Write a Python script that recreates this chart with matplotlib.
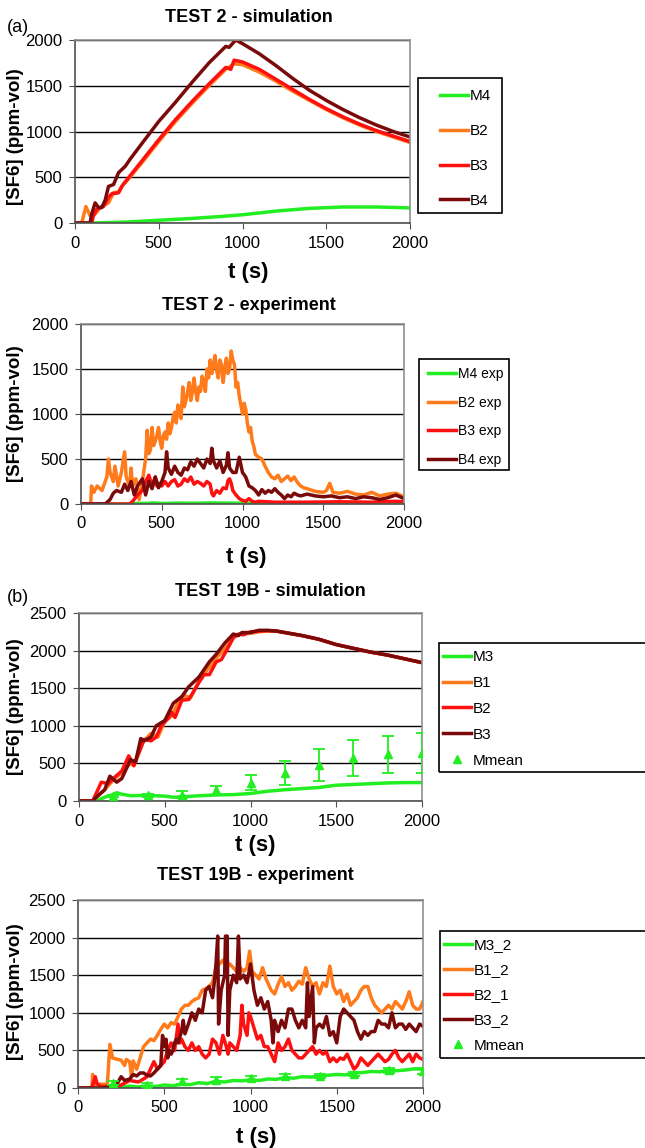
import numpy as np
import matplotlib
matplotlib.use("Agg")
import matplotlib.pyplot as plt
from matplotlib.patches import Rectangle

plt.rcParams['font.family'] = ['Liberation Sans', 'DejaVu Sans']

GREEN = "#22ee22"
ORANGE = "#ff7a1a"
RED = "#ff1010"
DARKRED = "#7a0a0a"

# ---------------- TEST 2 - simulation (t, ppm) ----------------
sim2_m4 = [(0, 0), (100, 0), (300, 10), (500, 30), (700, 50), (900, 75), (1000, 90),
           (1200, 130), (1400, 160), (1600, 175), (1800, 175), (2000, 165)]
sim2_b2 = [(0, 0), (40, 0), (65, 180), (90, 80), (110, 80), (130, 120), (150, 170),
           (180, 200), (200, 220), (230, 330), (260, 340), (290, 430), (300, 440),
           (400, 660), (500, 890), (600, 1110), (700, 1310), (800, 1500), (900, 1680),
           (950, 1740), (1000, 1730), (1100, 1650), (1200, 1550), (1300, 1440),
           (1400, 1340), (1500, 1240), (1600, 1150), (1700, 1070), (1800, 1000),
           (1900, 940), (2000, 880)]
sim2_b3 = [(0, 0), (100, 0), (110, 80), (130, 150), (170, 180), (200, 280), (220, 320),
           (260, 330), (280, 400), (300, 450), (400, 680), (500, 910), (600, 1130),
           (700, 1330), (800, 1520), (900, 1700), (930, 1680), (950, 1780), (1000, 1760),
           (1100, 1680), (1200, 1570), (1300, 1460), (1400, 1350), (1500, 1250),
           (1600, 1160), (1700, 1080), (1800, 1010), (1900, 950), (2000, 890)]
sim2_b4 = [(0, 0), (90, 0), (100, 100), (120, 220), (140, 170), (160, 170), (180, 250),
           (200, 400), (230, 420), (260, 550), (300, 620), (330, 700), (400, 870),
           (500, 1110), (600, 1320), (700, 1540), (800, 1750), (900, 1930), (920, 1920),
           (940, 1960), (960, 2000), (1000, 1960), (1100, 1850), (1200, 1720),
           (1300, 1580), (1400, 1450), (1500, 1340), (1600, 1240), (1700, 1150),
           (1800, 1070), (1900, 1000), (2000, 940)]

# ---------------- TEST 2 - experiment ----------------
exp2_m4 = [(0, 0), (300, 0), (350, 8), (400, 5), (450, 12), (500, 6), (600, 10), (700, 8),
           (800, 12), (900, 10), (1000, 8), (1100, 6), (1300, 5), (1500, 6), (1700, 4),
           (1900, 5), (2000, 5)]
exp2_b2 = [(0, 0), (60, 0), (65, 200), (80, 130), (100, 200), (130, 150), (160, 300),
           (170, 500), (180, 350), (200, 250), (210, 420), (230, 200), (250, 350),
           (270, 580), (280, 300), (300, 200), (310, 400), (320, 200), (340, 280),
           (360, 50), (380, 250), (400, 500), (410, 820), (420, 560), (430, 600),
           (440, 850), (450, 650), (460, 700), (470, 760), (480, 850), (490, 700),
           (500, 620), (510, 760), (520, 800), (530, 720), (540, 900), (550, 780),
           (560, 850), (570, 960), (580, 1020), (590, 900), (600, 1100), (610, 1000),
           (620, 950), (630, 1300), (640, 1080), (650, 1150), (660, 1250), (670, 1350),
           (680, 1150), (690, 1250), (700, 1400), (710, 1250), (720, 1150), (730, 1300),
           (740, 1250), (750, 1420), (760, 1350), (770, 1250), (780, 1500), (790, 1400),
           (800, 1600), (810, 1450), (820, 1550), (830, 1650), (840, 1480), (850, 1400),
           (860, 1600), (870, 1550), (880, 1350), (890, 1500), (900, 1620), (910, 1450),
           (920, 1500), (930, 1700), (940, 1600), (950, 1550), (960, 1300), (970, 1350),
           (980, 1200), (990, 1100), (1000, 1000), (1010, 1120), (1020, 1050),
           (1030, 900), (1040, 800), (1050, 850), (1060, 700), (1070, 640), (1080, 550),
           (1100, 520), (1120, 500), (1140, 420), (1160, 350), (1180, 300), (1200, 280),
           (1220, 320), (1240, 250), (1260, 280), (1280, 310), (1300, 260), (1320, 300),
           (1340, 240), (1360, 200), (1380, 180), (1400, 170), (1450, 140), (1500, 130),
           (1520, 150), (1540, 230), (1560, 130), (1600, 120), (1650, 140), (1700, 110),
           (1750, 100), (1800, 130), (1850, 90), (1900, 110), (1950, 120), (2000, 80)]
exp2_b3 = [(0, 0), (300, 0), (320, 30), (350, 100), (380, 150), (400, 250), (420, 320),
           (440, 200), (460, 300), (470, 200), (480, 230), (500, 200), (520, 250),
           (540, 200), (560, 250), (580, 270), (600, 200), (620, 220), (640, 280),
           (660, 250), (680, 300), (700, 220), (720, 250), (740, 230), (760, 200),
           (780, 250), (800, 220), (810, 120), (820, 90), (840, 150), (860, 120),
           (880, 180), (900, 170), (910, 260), (920, 280), (930, 230), (940, 150),
           (960, 100), (980, 60), (1000, 40), (1020, 30), (1040, 60), (1060, 30),
           (1080, 20), (1100, 30), (1200, 20), (1400, 20), (1600, 25), (1800, 20),
           (1950, 30), (2000, 25)]
exp2_b4 = [(0, 0), (150, 0), (180, 50), (200, 120), (220, 150), (250, 130), (270, 220),
           (290, 150), (310, 250), (330, 100), (350, 200), (380, 280), (400, 100),
           (420, 250), (440, 170), (460, 300), (480, 180), (500, 250), (520, 350),
           (530, 580), (540, 400), (560, 330), (580, 420), (600, 350), (620, 320),
           (640, 400), (660, 380), (680, 470), (700, 420), (720, 500), (740, 450),
           (760, 400), (780, 500), (800, 450), (810, 620), (820, 480), (840, 400),
           (860, 480), (880, 350), (900, 430), (910, 570), (920, 400), (940, 350),
           (960, 350), (980, 520), (1000, 350), (1020, 300), (1040, 200), (1060, 180),
           (1080, 150), (1100, 100), (1120, 160), (1140, 120), (1160, 150), (1180, 130),
           (1200, 170), (1220, 130), (1240, 100), (1260, 60), (1280, 100), (1300, 80),
           (1320, 120), (1340, 100), (1360, 90), (1400, 110), (1450, 90), (1500, 80),
           (1550, 90), (1600, 70), (1650, 80), (1700, 60), (1750, 80), (1800, 70),
           (1850, 50), (1900, 70), (1950, 100), (2000, 60)]

# ---------------- TEST 19B - simulation ----------------
sim19_m3 = [(0, 0), (100, 0), (150, 50), (190, 80), (220, 110), (250, 90), (300, 70),
            (400, 75), (500, 65), (550, 50), (600, 55), (700, 70), (800, 80), (900, 85),
            (1000, 100), (1100, 130), (1200, 150), (1300, 165), (1400, 180), (1500, 210),
            (1600, 220), (1700, 230), (1800, 240), (1900, 245), (2000, 245)]
sim19_b1 = [(0, 0), (80, 0), (150, 150), (200, 280), (250, 380), (300, 500), (320, 470),
            (360, 750), (400, 850), (420, 900), (460, 850), (500, 1060), (540, 1130),
            (580, 1320), (620, 1400), (650, 1370), (700, 1600), (760, 1780), (800, 1900),
            (860, 2050), (900, 2180), (950, 2230), (1000, 2230), (1050, 2250),
            (1100, 2260), (1150, 2260), (1200, 2240), (1300, 2200), (1400, 2150),
            (1500, 2080), (1600, 2030), (1700, 1980), (1800, 1940), (1900, 1890),
            (2000, 1840)]
sim19_b2 = [(0, 0), (80, 0), (130, 250), (170, 230), (200, 300), (250, 400), (290, 600),
            (320, 470), (360, 700), (380, 820), (420, 800), (450, 850), (480, 1000),
            (520, 1100), (540, 1180), (560, 1110), (600, 1340), (640, 1350), (680, 1500),
            (700, 1580), (730, 1680), (760, 1680), (800, 1850), (830, 1880), (860, 2000),
            (900, 2170), (930, 2220), (960, 2210), (1000, 2250), (1050, 2260),
            (1100, 2265), (1150, 2260), (1200, 2240), (1300, 2200), (1400, 2150),
            (1500, 2080), (1600, 2030), (1700, 1980), (1800, 1940), (1900, 1890),
            (2000, 1840)]
sim19_b3 = [(0, 0), (80, 0), (100, 50), (150, 150), (180, 330), (220, 250), (250, 300),
            (300, 550), (330, 520), (360, 830), (380, 800), (420, 850), (450, 1000),
            (500, 1070), (550, 1300), (600, 1390), (640, 1520), (700, 1650), (760, 1850),
            (800, 1950), (850, 2100), (900, 2220), (930, 2200), (950, 2240),
            (1000, 2240), (1050, 2270), (1100, 2270), (1150, 2260), (1200, 2240),
            (1300, 2200), (1400, 2150), (1500, 2080), (1600, 2030), (1700, 1980),
            (1800, 1940), (1900, 1890), (2000, 1840)]
mmean_t = [200, 400, 600, 800, 1000, 1200, 1400, 1600, 1800, 2000]
mmean_sim = [62, 75, 84, 142, 243, 372, 482, 571, 619, 641]
mmean_err = [15, 20, 50, 58, 100, 160, 210, 240, 250, 265]

# ---------------- TEST 19B - experiment ----------------
exp19_m3 = [(0, 0), (150, 0), (200, 20), (250, 10), (300, 25), (350, 15), (400, 30),
            (450, 20), (500, 40), (550, 30), (600, 50), (650, 45), (700, 70), (750, 60),
            (800, 90), (850, 80), (900, 100), (950, 95), (1000, 110), (1050, 100),
            (1100, 120), (1150, 115), (1200, 140), (1250, 130), (1300, 150), (1350, 145),
            (1400, 160), (1450, 170), (1500, 180), (1550, 175), (1600, 200), (1650, 205),
            (1700, 220), (1750, 215), (1800, 240), (1850, 230), (1900, 240), (1950, 255),
            (2000, 250)]
exp19_b1 = [(0, 0), (80, 0), (85, 180), (95, 0), (100, 50), (170, 50), (185, 580),
            (200, 400), (230, 380), (250, 370), (270, 300), (280, 380), (300, 350),
            (310, 150), (320, 360), (340, 250), (360, 400), (380, 550), (400, 600),
            (420, 650), (440, 630), (460, 700), (480, 780), (500, 850), (520, 800),
            (540, 870), (560, 850), (580, 950), (600, 1050), (620, 1100), (640, 1100),
            (660, 1150), (680, 1180), (700, 1200), (720, 1300), (740, 1320), (760, 1350),
            (780, 1400), (800, 1600), (820, 1650), (840, 1700), (860, 1600), (880, 1650),
            (900, 1600), (920, 1550), (940, 1600), (960, 1550), (980, 1600), (995, 1820),
            (1010, 1550), (1030, 1500), (1050, 1450), (1070, 1600), (1090, 1450),
            (1100, 1400), (1120, 1300), (1140, 1250), (1160, 1380), (1180, 1480),
            (1200, 1350), (1220, 1400), (1240, 1300), (1260, 1350), (1280, 1420),
            (1300, 1380), (1320, 1600), (1340, 1450), (1360, 1350), (1380, 1400),
            (1400, 1250), (1420, 1400), (1440, 1350), (1460, 1620), (1480, 1350),
            (1500, 1250), (1520, 1300), (1540, 1150), (1560, 1250), (1580, 1100),
            (1600, 1150), (1620, 1200), (1640, 1300), (1660, 1350), (1680, 1350),
            (1700, 1200), (1720, 1100), (1740, 1050), (1760, 1000), (1780, 1050),
            (1800, 1100), (1820, 1050), (1840, 1150), (1860, 1100), (1880, 1050),
            (1900, 1150), (1920, 1280), (1940, 1100), (1960, 1050), (1980, 1050),
            (2000, 1150)]
exp19_b2 = [(0, 0), (80, 0), (100, 150), (110, 60), (130, 20), (200, 20), (250, 40),
            (300, 100), (350, 80), (380, 120), (400, 150), (420, 250), (440, 350),
            (460, 250), (480, 300), (500, 350), (520, 500), (540, 600), (560, 500),
            (580, 850), (590, 600), (600, 650), (620, 550), (640, 500), (660, 600),
            (680, 500), (700, 550), (720, 450), (740, 400), (760, 450), (780, 650),
            (800, 600), (820, 450), (840, 700), (860, 550), (870, 450), (880, 600),
            (900, 550), (920, 500), (940, 700), (950, 1100), (960, 850), (980, 700),
            (990, 1000), (1000, 950), (1020, 800), (1040, 650), (1060, 700), (1080, 550),
            (1100, 550), (1120, 450), (1140, 350), (1160, 600), (1180, 500), (1200, 550),
            (1220, 650), (1240, 500), (1260, 450), (1280, 400), (1300, 400), (1320, 450),
            (1340, 500), (1360, 550), (1380, 450), (1400, 500), (1420, 450), (1440, 480),
            (1460, 350), (1480, 400), (1500, 350), (1520, 400), (1540, 380), (1560, 450),
            (1580, 350), (1600, 250), (1620, 300), (1640, 400), (1660, 350), (1680, 300),
            (1700, 350), (1720, 400), (1740, 450), (1760, 400), (1780, 350), (1800, 380),
            (1820, 450), (1840, 500), (1860, 400), (1880, 350), (1900, 400), (1920, 450),
            (1940, 350), (1960, 450), (1980, 400), (2000, 380)]
exp19_b3 = [(0, 0), (150, 0), (180, 20), (220, 30), (250, 150), (270, 100), (300, 120),
            (320, 180), (340, 160), (360, 200), (380, 200), (400, 170), (420, 160),
            (440, 200), (460, 250), (480, 300), (490, 700), (500, 550), (510, 650),
            (520, 400), (530, 500), (540, 450), (550, 500), (560, 600), (570, 650),
            (580, 600), (600, 750), (610, 900), (620, 720), (640, 850), (660, 1000),
            (680, 900), (700, 1050), (720, 1000), (740, 1300), (760, 1350), (780, 1200),
            (790, 1400), (800, 1650), (810, 2020), (815, 850), (830, 1300), (850, 1500),
            (855, 2020), (865, 2020), (870, 700), (880, 1300), (900, 1500), (920, 1400),
            (930, 2020), (940, 1450), (960, 1500), (980, 1400), (1000, 1650),
            (1020, 1300), (1040, 1100), (1060, 1200), (1080, 1050), (1100, 1150),
            (1120, 900), (1130, 600), (1140, 900), (1160, 750), (1180, 900), (1200, 800),
            (1220, 1050), (1240, 1050), (1260, 900), (1280, 800), (1300, 900),
            (1320, 800), (1330, 1400), (1340, 950), (1360, 1350), (1370, 600),
            (1380, 800), (1400, 850), (1420, 800), (1440, 950), (1460, 700), (1480, 750),
            (1500, 600), (1520, 950), (1540, 1050), (1560, 1000), (1580, 950),
            (1600, 900), (1620, 750), (1640, 650), (1660, 750), (1680, 700), (1700, 750),
            (1720, 750), (1740, 900), (1760, 850), (1780, 850), (1800, 800),
            (1820, 1000), (1840, 800), (1860, 850), (1880, 850), (1900, 780),
            (1920, 850), (1940, 800), (1960, 750), (1980, 850), (2000, 820)]
mmean_exp = [66, 40, 88, 110, 133, 155, 164, 186, 235, 221]
mmean_exp_err = [30, 25, 30, 30, 25, 25, 25, 30, 30, 40]

W, H = 645, 1148
fig = plt.figure(figsize=(W / 100, H / 100), dpi=100)


def make_axes(left, top, right, bottom):
    return fig.add_axes([left / W, 1 - bottom / H, (right - left) / W, (bottom - top) / H])


def style(ax, ymax):
    ax.set_xlim(0, 2000)
    ax.set_ylim(0, ymax)
    ax.set_xticks([0, 500, 1000, 1500, 2000])
    ax.set_yticks(np.arange(0, ymax + 1, 500))
    ax.yaxis.grid(True, color="black", lw=1)
    ax.set_axisbelow(True)
    for s in ["top", "right"]:
        ax.spines[s].set_color("#909090")
        ax.spines[s].set_linewidth(1.2)
    for s in ["left", "bottom"]:
        ax.spines[s].set_color("#505050")
        ax.spines[s].set_linewidth(1.2)
    ax.tick_params(direction="out", length=4, color="#505050", labelsize=12, pad=5)


def plot_series(ax, data, color, label):
    arr = np.array(data).T
    ax.plot(arr[0], arr[1], color=color, lw=2.5, label=label, solid_joinstyle="round")


def plot_mmean(ax, values, errors):
    ax.errorbar(mmean_t, values, yerr=errors, fmt="none", ecolor=GREEN,
                capsize=4, elinewidth=1.3, capthick=1.3, zorder=5)
    ax.plot(mmean_t, values, "^", color=GREEN, ms=6, label="Mmean", zorder=6)


def legend(ax, box, hx, y0, spacing, size=11):
    # box: (left, top, right, bottom) in pixels; hx: x where handles start
    x0, y_top, x1, y_bot = box
    fig.add_artist(Rectangle((x0 / W, 1 - y_bot / H), (x1 - x0) / W, (y_bot - y_top) / H,
                             transform=fig.transFigure, fill=False, ec="black", lw=1.2))
    ax.legend(loc="upper left", bbox_to_anchor=(hx / W, 1 - (y0 - 7) / H),
              bbox_transform=fig.transFigure, borderaxespad=0, borderpad=0,
              fontsize=size, frameon=False, handlelength=1.8 * 11 / size,
              handletextpad=0.15, labelspacing=spacing)


def labels(cx_title, y_title, title, y_ylab, cx_x, y_x):
    fig.text(cx_title / W, 1 - y_title / H, title, ha="center", va="center",
             fontsize=13, fontweight="bold")
    fig.text(16 / W, 1 - y_ylab / H, "[SF6] (ppm-vol)", rotation=90, ha="center",
             va="center", fontsize=13.5, fontweight="bold")
    fig.text(cx_x / W, 1 - y_x / H, "t (s)", ha="center", va="center",
             fontsize=16, fontweight="bold")


# panel 1
ax1 = make_axes(75, 40, 410, 223)
style(ax1, 2000)
plot_series(ax1, sim2_m4, GREEN, "M4")
plot_series(ax1, sim2_b2, ORANGE, "B2")
plot_series(ax1, sim2_b3, RED, "B3")
plot_series(ax1, sim2_b4, DARKRED, "B4")
legend(ax1, (418, 78, 502, 213), 440, 96, 1.37)
labels(249, 18, "TEST 2 - simulation", 137, 248, 272)
fig.text(18 / W, 1 - 27 / H, "(a)", ha="center", va="center", fontsize=13)

# panel 2
ax2 = make_axes(81, 324, 404, 504)
style(ax2, 2000)
plot_series(ax2, exp2_m4, GREEN, "M4 exp")
plot_series(ax2, exp2_b2, ORANGE, "B2 exp")
plot_series(ax2, exp2_b3, RED, "B3 exp")
plot_series(ax2, exp2_b4, DARKRED, "B4 exp")
legend(ax2, (419, 359, 509, 470), 428, 374, 1.05, size=10)
labels(249, 305, "TEST 2 - experiment", 414, 246, 557)

# panel 3
ax3 = make_axes(79, 613, 422, 801)
style(ax3, 2500)
plot_series(ax3, sim19_m3, GREEN, "M3")
plot_series(ax3, sim19_b1, ORANGE, "B1")
plot_series(ax3, sim19_b2, RED, "B2")
plot_series(ax3, sim19_b3, DARKRED, "B3")
plot_mmean(ax3, mmean_sim, mmean_err)
legend(ax3, (439, 643, 660, 772), 443, 657, 0.78)
labels(270, 591, "TEST 19B - simulation", 707, 255, 845)
fig.text(18 / W, 1 - 597 / H, "(b)", ha="center", va="center", fontsize=13)

# panel 4
ax4 = make_axes(78, 900, 423, 1088)
style(ax4, 2500)
plot_series(ax4, exp19_m3, GREEN, "M3_2")
plot_series(ax4, exp19_b1, ORANGE, "B1_2")
plot_series(ax4, exp19_b2, RED, "B2_1")
plot_series(ax4, exp19_b3, DARKRED, "B3_2")
plot_mmean(ax4, mmean_exp, mmean_exp_err)
legend(ax4, (440, 931, 660, 1058), 444, 945, 0.73)
labels(255, 875, "TEST 19B - experiment", 992, 256, 1137)

fig.savefig("out.png", dpi=100)
